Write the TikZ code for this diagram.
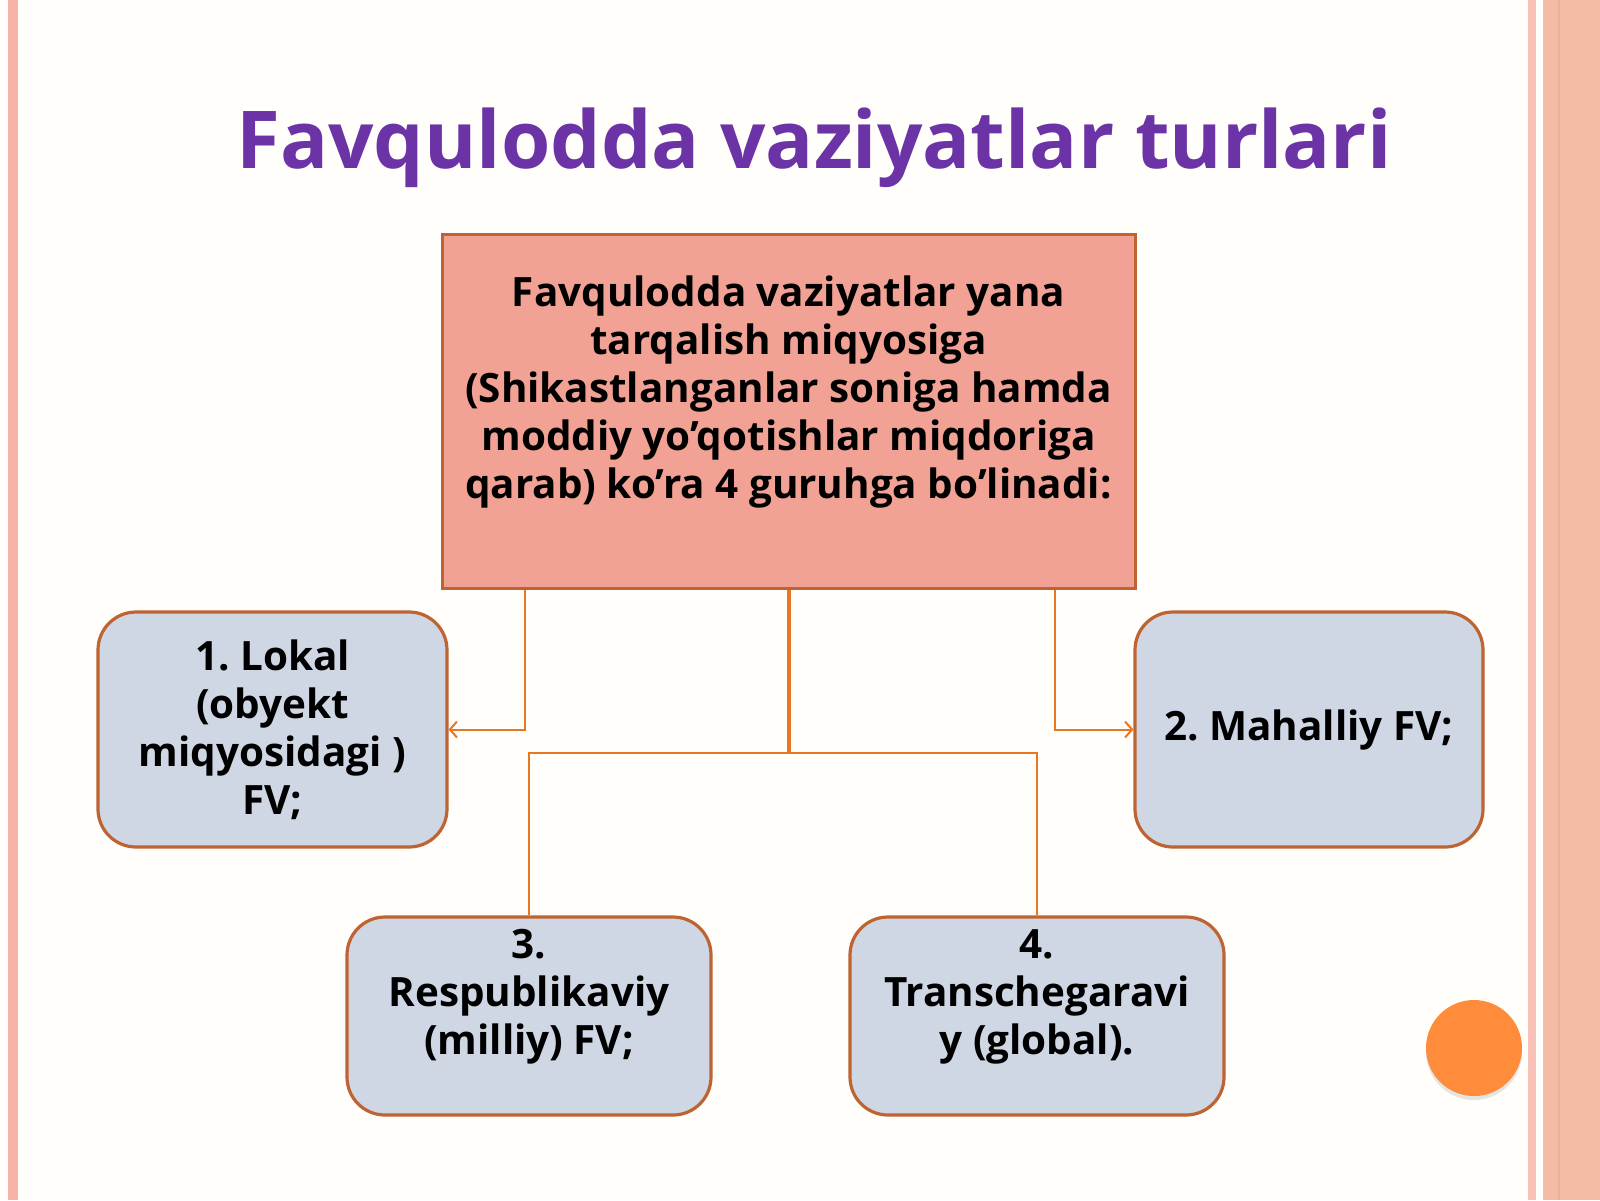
\documentclass[tikz,border=0pt]{standalone}
\usepackage{fontspec}
\setmainfont{Open Sans}
\frenchspacing
\usepackage{tikz}
\usetikzlibrary{shapes.geometric, arrows, arrows.meta, shadows}
\definecolor{paper}{RGB}{255,254,250}
\definecolor{salmon}{RGB}{242,162,148}
\definecolor{slate}{RGB}{207,215,229}
\definecolor{boxline}{RGB}{190,100,50}
\definecolor{wire}{RGB}{232,119,34}
\definecolor{dotorange}{RGB}{255,140,58}
\definecolor{titlepurple}{RGB}{107,51,166}
\definecolor{stripe}{RGB}{246,179,168}
\definecolor{band}{RGB}{244,187,166}
\tikzstyle{titletext} = [font=\bfseries\fontsize{39.9}{48}\selectfont, text=titlepurple]
\tikzstyle{redbox} = [rectangle, minimum width=346.5pt, minimum height=177pt, draw=boxline, line width=1.5pt, fill=salmon, align=center, font=\bfseries\fontsize{20.2}{24}\selectfont]
\tikzstyle{bluebox} = [rectangle, rounded corners=19pt, minimum width=174.5pt, minimum height=117.5pt, draw=boxline, line width=1.6pt, fill=slate, align=center, font=\bfseries\fontsize{20.2}{24}\selectfont]
\tikzstyle{line} = [draw=wire, line width=1pt]
\tikzstyle{arrow} = [draw=wire, line width=1pt, ->, >={Straight Barb[length=3.5pt, width=8pt]}]

\begin{document}
\begin{tikzpicture}[x=0.5pt, y=-0.5pt, align=center]

      % slide background
      \useasboundingbox (0,0) rectangle (1600,1200);
      \fill [paper] (0,0) rectangle (1600,1200);
      \fill [stripe] (8,0) rectangle (18,1200);
      \fill [stripe!80!white] (1528,0) rectangle (1536,1200);
      \fill [band] (1543,0) rectangle (1600,1200);
      \fill [band!85!brown] (1558,0) rectangle (1560,1200);

      \node (title) [titletext] at (814,148) {Favqulodda vaziyatlar turlari};

      \node (scale) [redbox] at (788.5,411) {Favqulodda vaziyatlar yana\\tarqalish miqyosiga\\(Shikastlanganlar soniga hamda\\moddiy yo’qotishlar miqdoriga\\qarab) ko’ra 4 guruhga bo’linadi:\\ \mbox{}};
      \node (lokal) [bluebox, node distance=159.25pt, below of=scale, xshift=-258pt] {1. Lokal\\(obyekt\\miqyosidagi )\\FV;};
      \node (mahalliy) [bluebox, minimum width=174pt, node distance=159.25pt, below of=scale, xshift=260.25pt] {2. Mahalliy FV;};
      \node (respublika) [bluebox, minimum width=182pt, minimum height=99pt, node distance=302.5pt, below of=scale, xshift=-129.75pt] {3.\\Respublikaviy\\(milliy) FV;\\ \mbox{}};
      \node (global) [bluebox, minimum width=187pt, minimum height=99pt, node distance=302.5pt, below of=scale, xshift=124.25pt] {4.\\Transchegaravi\\y (global).\\ \mbox{}};
      \coordinate[node distance=171pt, below of=scale] (j);

      \draw [line, line width=2pt] (scale) -- (j);
      \draw [line] (respublika) |- (j) -| (global);
      \draw [arrow] ([xshift=42pt]scale.south west) |- (lokal);
      \draw [arrow] ([xshift=-41pt]scale.south east) |- (mahalliy);

      \node (dot) [circle, minimum size=48pt, fill=dotorange, drop shadow={shadow xshift=0pt, shadow yshift=-2pt, opacity=0.2}] at (1474,1048) {};
    \end{tikzpicture}
\end{document}
